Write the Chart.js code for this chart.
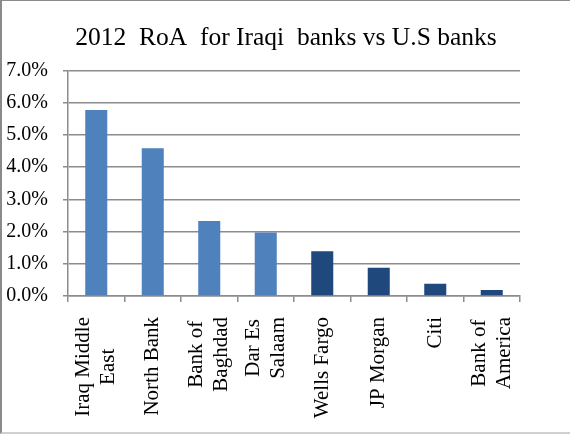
<!DOCTYPE html>
<html>
<head>
<meta charset="utf-8">
<script src="https://cdn.jsdelivr.net/npm/chart.js@4/dist/chart.umd.min.js"></script>
<style>
  html, body { margin: 0; padding: 0; background: #fff; }
  #wrap { width: 570px; height: 434px; box-sizing: border-box; border: 1px solid #8a8a8a; border-left-width: 2px; border-right: none; border-bottom: 2px solid #d0d0d0; background: #fff; }
  canvas { display: block; }
</style>
</head>
<body>
<div id="wrap"><canvas id="c" width="568" height="431"></canvas></div>
<script>
const categories = [
  ["Iraq Middle", "East"],
  "North Bank",
  ["Bank of", "Baghdad"],
  ["Dar Es", "Salaam"],
  "Wells Fargo",
  "JP Morgan",
  "Citi",
  ["Bank of", "America"]
];
const roaValues = [5.78, 4.59, 2.33, 1.97, 1.39, 0.88, 0.38, 0.19];
const bankGroup = ["Iraq", "Iraq", "Iraq", "Iraq", "US", "US", "US", "US"];
const yTickMax = 7;
const titleText = "2012  RoA  for Iraqi  banks vs U.S banks";

const groupColor = { Iraq: "#4F81BD", US: "#1F497D" };
const serif = "'Liberation Serif', 'Times New Roman', serif";
const gridGray = "#8c8c8c";

// center the lines of each rotated multi-line category label on each other
const centerRotatedLabels = {
  id: "centerRotatedLabels",
  beforeDraw(chart) {
    const s = chart.scales.x;
    const ctx = chart.ctx;
    const items = s.getLabelItems();
    items.forEach(it => {
      if (it._centered) return;
      const lines = Array.isArray(it.label) ? it.label : [it.label];
      ctx.save();
      ctx.font = it.font.string;
      const maxW = Math.max(...lines.map(l => ctx.measureText(l).width));
      ctx.restore();
      it.options.textAlign = "center";
      it.options.translation[1] += maxW / 2;
      it.options.translation[0] -= (lines.length - 1) * it.font.lineHeight / 2;
      it._centered = true;
    });
  }
};

new Chart(document.getElementById("c"), {
  type: "bar",
  data: {
    labels: categories,
    datasets: [{
      data: roaValues,
      backgroundColor: bankGroup.map(g => groupColor[g]),
      barPercentage: 0.39,
      categoryPercentage: 1.0
    }]
  },
  plugins: [centerRotatedLabels],
  options: {
    responsive: false,
    animation: false,
    devicePixelRatio: 1,
    layout: { padding: 0 },
    plugins: {
      legend: { display: false },
      tooltip: { enabled: false },
      title: {
        display: true,
        text: titleText,
        color: "#000",
        font: { family: serif, size: 25.5, weight: "normal" },
        padding: { top: 22, bottom: 17 }
      }
    },
    scales: {
      x: {
        offset: true,
        border: { display: true, color: gridGray, width: 1.5 },
        grid: { display: true, drawOnChartArea: false, drawTicks: true, tickLength: 6, offset: true, color: gridGray, lineWidth: 1.5 },
        ticks: {
          color: "#000",
          maxRotation: 90,
          minRotation: 90,
          autoSkip: false,
          padding: 15,
          font: { family: serif, size: 21 }
        },
        afterFit(scale) { scale.height = 136; }
      },
      y: {
        min: 0,
        max: yTickMax,
        border: { display: true, color: gridGray, width: 1.5 },
        grid: { color: gridGray, lineWidth: 1.5, drawTicks: true, tickLength: 5 },
        ticks: {
          stepSize: 1,
          color: "#000",
          padding: 15,
          font: { family: serif, size: 20 },
          callback: v => v.toFixed(1) + "%"
        },
        afterFit(scale) { scale.width = 66; }
      },
      spacer: {
        type: "linear",
        position: "right",
        display: true,
        border: { display: false },
        grid: { display: false, drawTicks: false },
        ticks: { display: false },
        afterFit(scale) { scale.width = 50; }
      }
    }
  }
});
</script>
</body>
</html>
